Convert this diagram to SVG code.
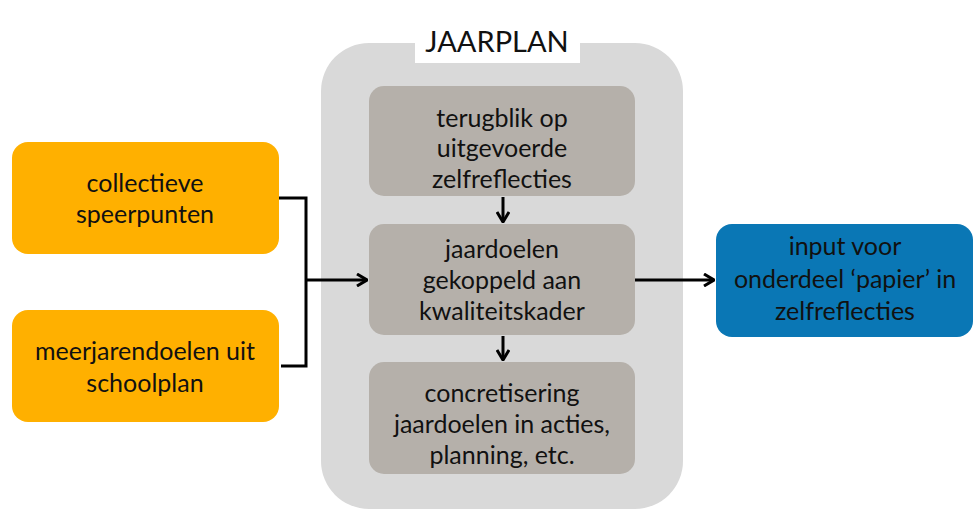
<svg xmlns="http://www.w3.org/2000/svg" width="975" height="511" viewBox="0 0 975 511">
<style>
text{font-family:Lato,"Open Sans","DejaVu Sans",sans-serif;font-size:25px;fill:#111;text-anchor:middle}
.org{fill:#ffb000}
.gray{fill:#b5b0aa}
.blue{fill:#0a77b5}
.con{fill:none;stroke:#000;stroke-width:3}
</style>
<defs>
<marker id="ah" viewBox="0 0 12 14" refX="11" refY="7" markerWidth="12" markerHeight="14" markerUnits="userSpaceOnUse" orient="auto">
<polyline points="1,1 11,7 1,13" fill="none" stroke="#000" stroke-width="3"/>
</marker>
</defs>
<rect width="975" height="511" fill="#fff"/>
<g id="jaarplan">
<rect x="321" y="43" width="362" height="466" rx="48" fill="#d9d9d9"/>
<rect x="415" y="15" width="165" height="48" fill="#fff"/>
<text x="497" y="52" style="font-size:29px">JAARPLAN</text>
</g>
<g id="terugblik">
<rect class="gray" x="369" y="86" width="266" height="110" rx="15"/>
<text x="502" y="127">terugblik op</text>
<text x="502" y="157">uitgevoerde</text>
<text x="502" y="188">zelfreflecties</text>
</g>
<g id="jaardoelen">
<rect class="gray" x="369" y="224" width="266" height="111" rx="15"/>
<text x="502" y="258">jaardoelen</text>
<text x="502" y="289">gekoppeld aan</text>
<text x="502" y="320">kwaliteitskader</text>
</g>
<g id="concretisering">
<rect class="gray" x="369" y="362" width="266" height="112" rx="15"/>
<text x="502" y="402">concretisering</text>
<text x="502" y="433">jaardoelen in acties,</text>
<text x="502" y="464">planning, etc.</text>
</g>
<g id="collectieve">
<rect class="org" x="12" y="142" width="267" height="112" rx="16"/>
<text x="145" y="192">collectieve</text>
<text x="145" y="223">speerpunten</text>
</g>
<g id="meerjarendoelen">
<rect class="org" x="12" y="310" width="267" height="112" rx="16"/>
<text x="145" y="360">meerjarendoelen uit</text>
<text x="145" y="392">schoolplan</text>
</g>
<g id="input">
<rect class="blue" x="716" y="224" width="257" height="113" rx="16"/>
<text x="845" y="255">input voor</text>
<text x="845" y="288">onderdeel ‘papier’ in</text>
<text x="845" y="320">zelfreflecties</text>
</g>
<g id="connectors">
<polyline class="con" points="279,198 306,198 306,366 281,366"/>
<line class="con" x1="306" y1="280" x2="367" y2="280" marker-end="url(#ah)"/>
<line class="con" x1="635" y1="280" x2="714" y2="280" marker-end="url(#ah)"/>
<line class="con" x1="503" y1="197" x2="503" y2="222" marker-end="url(#ah)"/>
<line class="con" x1="503" y1="336" x2="503" y2="360" marker-end="url(#ah)"/>
</g>
</svg>
